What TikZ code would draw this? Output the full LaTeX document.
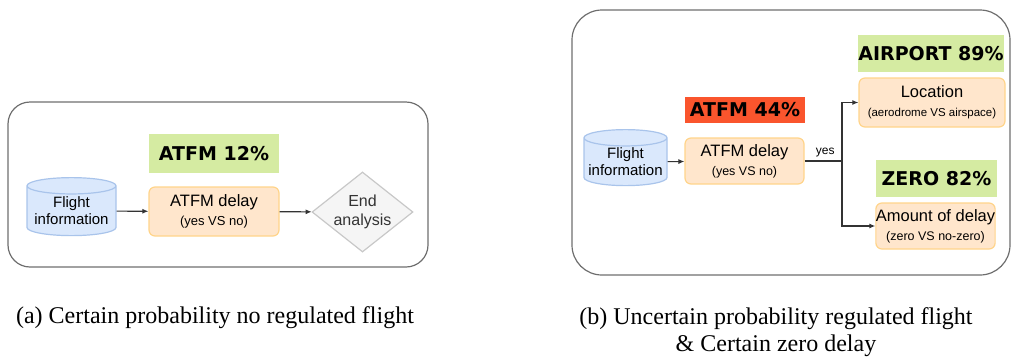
\documentclass[tikz,border=0pt]{standalone}
\usepackage{fontspec}
\setmainfont{Liberation Serif}
\setsansfont{Liberation Sans}
\newfontfamily\pctfont{DejaVu Sans}
\usetikzlibrary{shapes.geometric,arrows.meta,positioning}

\definecolor{pctgreen}{HTML}{D5EBA2}
\definecolor{pctred}{HTML}{FA552D}
\definecolor{taskfill}{HTML}{FFE6CC}
\definecolor{taskline}{HTML}{FFD48A}
\definecolor{dbfill}{HTML}{DAE8FC}
\definecolor{dbline}{HTML}{A9C4EB}
\definecolor{endfill}{HTML}{F5F5F5}
\definecolor{endline}{HTML}{C8C8C8}
\definecolor{panelgray}{HTML}{6E6E6E}
\definecolor{linegray}{HTML}{333333}

\tikzset{
  panel/.style={draw=panelgray, line width=1.2pt},
  pct/.style={fill=pctgreen, inner sep=0pt, font=\pctfont\bfseries\fontsize{19}{22}\selectfont},
  task/.style={draw=taskline, fill=taskfill, line width=1.2pt, rounded corners=6pt,
    inner sep=0pt, align=center, font=\sffamily\fontsize{16.5}{19}\selectfont},
  db/.style={cylinder, shape border rotate=90, aspect=0.22, draw=dbline, fill=dbfill,
    line width=1.2pt, inner sep=0pt, align=center, font=\sffamily\fontsize{15}{17}\selectfont},
  endbox/.style={diamond, aspect=1.26, draw=endline, fill=endfill, line width=1.2pt,
    inner sep=0pt, align=center, text=linegray, font=\sffamily\fontsize{16}{19}\selectfont},
  link/.style={draw=linegray, line width=1.1pt, -{Latex[length=6pt,width=5pt]}},
  caption/.style={font=\fontsize{24}{27}\selectfont, align=center}
}

\begin{document}
\begin{tikzpicture}[x=1pt,y=-1pt]
  \useasboundingbox (0,0) rectangle (1012,357);

  % panel (a)
  \draw[panel, rounded corners=22pt] (8,102) rectangle (428,267);
  \node[pct, minimum width=130pt, minimum height=39pt] (pa) at (214,153.5) {ATFM 12\%};
  \node[db, minimum width=89pt, minimum height=58pt] (dba) at (71.5,211) {Flight\\information};
  \node[task, minimum width=130pt, minimum height=49pt] (delaya) at (214,211.5)
    {ATFM delay\\{\fontsize{13}{15}\selectfont (yes VS no)}};
  \node[endbox, minimum width=101pt, minimum height=80pt] (enda) at (362.5,212) {End\\analysis};
  \draw[link] (dba) -- (delaya);
  \draw[link] (delaya) -- (enda);

  % panel (b)
  \draw[panel, rounded corners=30pt] (572,10) rectangle (1010,275);
  \node[db, minimum width=83pt, minimum height=56pt] (dbb) at (625.5,162) {Flight\\information};
  \node[pct, fill=pctred, minimum width=120pt, minimum height=26pt] (pb) at (745,110) {ATFM 44\%};
  \node[task, minimum width=119pt, minimum height=46pt] (delayb) at (744.5,161)
    {ATFM delay\\{\fontsize{12.5}{15}\selectfont (yes VS no)}};
  \coordinate (split) at (842,161);
  \node[pct, minimum width=142pt, minimum height=37pt] (pair) at (931,53.5) {AIRPORT 89\%};
  \node[task, minimum width=146pt, minimum height=49pt] (loc) at (932,102.5)
    {Location\\{\fontsize{11.5}{14}\selectfont (aerodrome VS airspace)}};
  \node[pct, minimum width=121pt, minimum height=37pt] (pzero) at (936.5,178.5) {ZERO 82\%};
  \node[task, minimum width=119pt, minimum height=46pt] (amount) at (935.5,226)
    {Amount of delay\\{\fontsize{12.5}{15}\selectfont (zero VS no-zero)}};
  \draw[link] (dbb) -- (delayb);
  \draw[draw=linegray, line width=1.6pt] (delayb) -- (split)
    node[midway, above, font=\sffamily\fontsize{12}{14}\selectfont, xshift=2pt] (yes) {yes};
  \draw[link] (split) |- (loc);
  \draw[link] (split) |- (amount);

  % captions
  \node[caption] (capa) at (215,318) {(a) Certain probability no regulated flight};
  \node[caption, anchor=north] (capb) at (776,304)
    {(b) Uncertain probability regulated flight\\\& Certain zero delay};
\end{tikzpicture}
\end{document}
